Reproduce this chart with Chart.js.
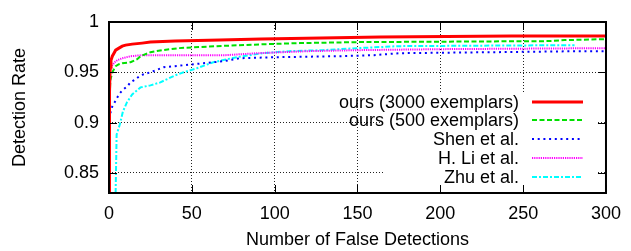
<!DOCTYPE html>
<html>
<head>
<meta charset="utf-8">
<script src="https://cdn.jsdelivr.net/npm/chart.js@4"></script>
<style>
  html, body { margin: 0; padding: 0; background: #fff; }
  canvas { display: block; }
</style>
</head>
<body>
<canvas id="Chart" width="631" height="251"></canvas>
<script>
"use strict";

// values: x = false detections, y = detection rate
var ours3000X = [0, 0.3, 0.7, 1.2, 2, 3, 4, 6, 8, 10, 14, 20, 25, 40, 67, 92, 164, 243, 300];
var ours3000Y = [0.83, 0.93, 0.955, 0.962, 0.966, 0.969, 0.972, 0.974, 0.976, 0.977, 0.978, 0.979, 0.980, 0.981, 0.982, 0.983, 0.985, 0.986, 0.986];

var ours500X = [0, 0.3, 0.8, 2, 4, 6, 8, 13, 17, 19, 25, 32, 42, 65, 95, 115, 150, 265, 275, 300];
var ours500Y = [0.83, 0.92, 0.942, 0.950, 0.956, 0.958, 0.959, 0.960, 0.963, 0.966, 0.970, 0.972, 0.974, 0.976, 0.978, 0.979, 0.980, 0.981, 0.982, 0.983];

var shenX = [0, 0.3, 1, 2, 4, 6, 8, 11, 13, 16, 19, 25, 33, 45, 57, 69, 79, 100, 139, 160, 175, 233, 284, 300];
var shenY = [0.83, 0.90, 0.911, 0.916, 0.922, 0.928, 0.932, 0.936, 0.940, 0.943, 0.947, 0.950, 0.955, 0.957, 0.959, 0.961, 0.964, 0.965, 0.966, 0.967, 0.969, 0.970, 0.971, 0.971];

var liX = [0, 0.2, 1, 2, 3.5, 5, 8, 13, 20, 70, 80, 90, 105, 120, 150, 200, 300];
var liY = [0.83, 0.950, 0.953, 0.957, 0.960, 0.962, 0.964, 0.966, 0.967, 0.967, 0.968, 0.969, 0.970, 0.971, 0.972, 0.973, 0.974];

var zhuX = [4, 4.6, 6.5, 8.4, 10.8, 14, 19, 25, 31, 40, 45, 53, 63, 77, 93, 109, 129, 150, 175, 281];
var zhuY = [0.83, 0.888, 0.898, 0.911, 0.920, 0.928, 0.935, 0.937, 0.940, 0.947, 0.950, 0.954, 0.960, 0.965, 0.969, 0.971, 0.972, 0.974, 0.976, 0.977];

var seriesLabels = ['ours (3000 exemplars)', 'ours (500 exemplars)', 'Shen et al.', 'H. Li et al.', 'Zhu et al.'];
var xTickValues = [0, 50, 100, 150, 200, 250, 300];
var yTickValues = [0.85, 0.9, 0.95, 1];

var FONT = { family: "'Liberation Sans', Arial, sans-serif", size: 18 };
var FONT_CSS = "18px 'Liberation Sans', Arial, sans-serif";

function toPoints(xs, ys) {
  return xs.map(function (x, i) {
    return { x: x, y: ys[i] };
  });
}

function makeSet(label, xs, ys, color, width, dash) {
  return {
    label: label,
    data: toPoints(xs, ys),
    borderColor: color,
    borderWidth: width,
    borderDash: dash,
    pointRadius: 0,
    tension: 0,
    fill: false
  };
}

// gnuplot look: opaque key box, inward mirrored ticks, frame, key inside
var gnuplotFrame = {
  id: 'gnuplotFrame',
  beforeDatasetsDraw: function (chart) {
    var ctx = chart.ctx;
    ctx.save();
    ctx.fillStyle = '#fff';
    ctx.fillRect(385, 93, 211, 99);
    ctx.restore();
  },
  afterDatasetsDraw: function (chart) {
    var ctx = chart.ctx,
        a = chart.chartArea,
        xs = chart.scales.x,
        ys = chart.scales.y,
        tick = 8;
    ctx.save();
    ctx.strokeStyle = '#000';
    ctx.lineWidth = 1;
    ctx.beginPath();
    xTickValues.forEach(function (v) {
      var px = Math.round(xs.getPixelForValue(v)) + 0.5;
      ctx.moveTo(px, a.bottom); ctx.lineTo(px, a.bottom - tick);
      ctx.moveTo(px, a.top); ctx.lineTo(px, a.top + tick);
    });
    yTickValues.forEach(function (v) {
      var py = Math.round(ys.getPixelForValue(v)) + 0.5;
      ctx.moveTo(a.left, py); ctx.lineTo(a.left + tick, py);
      ctx.moveTo(a.right, py); ctx.lineTo(a.right - tick, py);
    });
    ctx.stroke();
    ctx.lineWidth = 2;
    ctx.strokeRect(a.left, a.top, a.right - a.left, a.bottom - a.top);
    ctx.restore();
  },
  afterDraw: function (chart) {
    var ctx = chart.ctx;
    ctx.save();
    ctx.font = FONT_CSS;
    ctx.textAlign = 'right';
    ctx.textBaseline = 'middle';
    chart.data.datasets.forEach(function (ds, i) {
      var y = 101.7 + i * 18.75;
      ctx.fillStyle = '#000';
      ctx.fillText(ds.label, 519, y + 1);
      ctx.strokeStyle = ds.borderColor;
      ctx.lineWidth = ds.borderWidth;
      ctx.setLineDash(ds.borderDash || []);
      ctx.beginPath();
      ctx.moveTo(532, Math.round(y));
      ctx.lineTo(583, Math.round(y));
      ctx.stroke();
    });
    ctx.restore();
  }
};

var ctx = document.getElementById('Chart').getContext('2d');
var chart = new Chart(ctx, {
  type: 'line',
  data: {
    datasets: [
      makeSet(seriesLabels[0], ours3000X, ours3000Y, '#ff0000', 3, []),
      makeSet(seriesLabels[1], ours500X, ours500Y, '#00e000', 2, [5, 2.5]),
      makeSet(seriesLabels[2], shenX, shenY, '#0000ff', 2, [2, 3.7]),
      makeSet(seriesLabels[3], liX, liY, '#ff00ff', 2, [1.2, 1]),
      makeSet(seriesLabels[4], zhuX, zhuY, '#00ffff', 2, [5, 2, 2, 2])
    ]
  },
  options: {
    responsive: false,
    animation: false,
    layout: { padding: { top: 22, right: 24, left: 0, bottom: 0 } },
    plugins: {
      legend: { display: false },
      tooltip: { enabled: false }
    },
    scales: {
      x: {
        type: 'linear',
        min: 0,
        max: 300,
        afterFit: function (s) { s.height = 58; },
        afterBuildTicks: function (s) {
          s.ticks = xTickValues.map(function (v) { return { value: v }; });
        },
        ticks: { font: FONT, color: '#000', padding: 10, maxRotation: 0, autoSkip: false },
        grid: { color: '#222', lineWidth: 1, drawTicks: false },
        border: { display: false, dash: [1, 2] },
        title: { display: true, text: 'Number of False Detections', font: FONT, color: '#000', padding: 0 }
      },
      y: {
        type: 'linear',
        min: 0.83,
        max: 1,
        afterFit: function (s) { s.width = 109; },
        afterBuildTicks: function (s) {
          s.ticks = yTickValues.map(function (v) { return { value: v }; });
        },
        ticks: {
          font: FONT,
          color: '#000',
          padding: 10,
          autoSkip: false,
          callback: function (v) { return String(+v.toFixed(2)); }
        },
        grid: { color: '#222', lineWidth: 1, drawTicks: false },
        border: { display: false, dash: [1, 2] },
        title: { display: true, text: 'Detection Rate', font: FONT, color: '#000', padding: { top: 9, bottom: 0 } }
      }
    }
  },
  plugins: [gnuplotFrame]
});
</script>
</body>
</html>
